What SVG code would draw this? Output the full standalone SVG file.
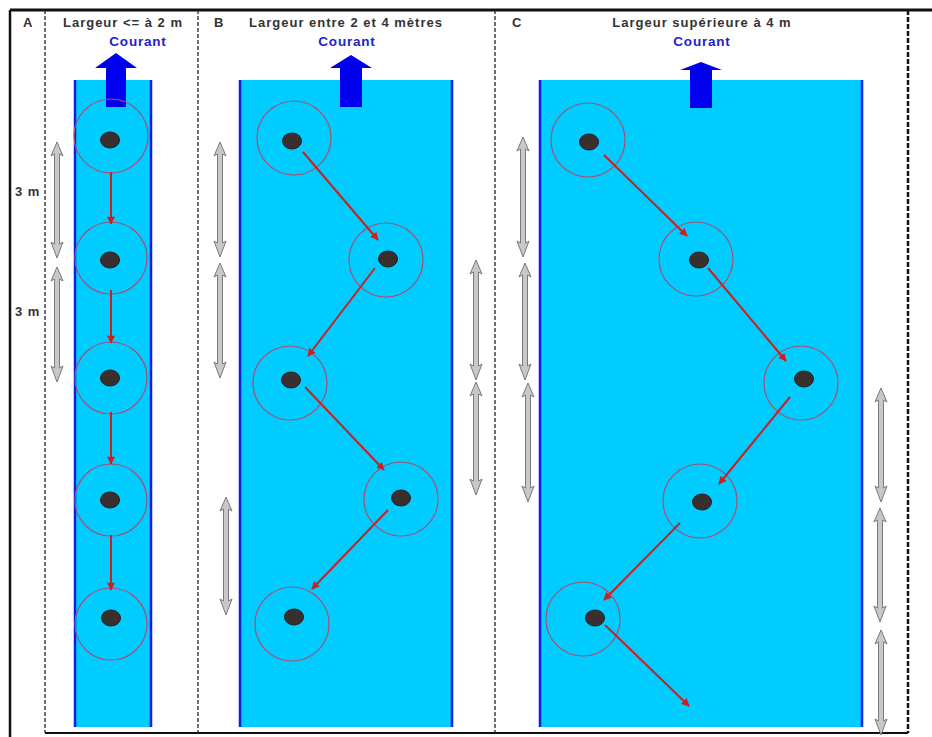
<svg xmlns="http://www.w3.org/2000/svg" width="932" height="737" viewBox="0 0 932 737">
  <style>
    .title { font-family: "Liberation Sans", Arial, sans-serif; font-weight: bold; font-size: 13px; letter-spacing: 1px; fill: #333; }
    .courant { font-family: "Liberation Sans", Arial, sans-serif; font-weight: bold; font-size: 13.5px; letter-spacing: 0.8px; fill: #2222cc; text-anchor: middle; }
    .river { fill: #00ccff; }
    .bank { stroke: #0a1ee6; stroke-width: 2.5; }
    .flow { fill: #0000ee; }
    .sep { stroke: #222; stroke-width: 1.3; stroke-dasharray: 4 2; fill: none; }
    .ring { fill: none; stroke: #a85070; stroke-width: 1.2; }
    .trunk { fill: #3a2f2f; stroke: #1f1f1f; stroke-width: 1; }
    .step { stroke: #cc2020; stroke-width: 2; fill: none; marker-end: url(#head); }
    .dim { fill: #c8c8c8; stroke: #7a7a7a; stroke-width: 1; }
  </style>
  <defs>
    <marker id="head" viewBox="0 0 10 10" refX="9" refY="5" markerWidth="4.5" markerHeight="4" orient="auto" markerUnits="strokeWidth">
      <path d="M0,0 L10,5 L0,10 Z" fill="#cc2020"/>
    </marker>
  </defs>

  <rect width="932" height="737" fill="#ffffff"/>

  <!-- frame -->
  <g id="frame">
    <line x1="10" y1="10" x2="932" y2="10" stroke="#111" stroke-width="3"/>
    <line x1="10" y1="10" x2="10" y2="737" stroke="#111" stroke-width="2.5"/>
    <line x1="45" y1="733" x2="908" y2="733" stroke="#111" stroke-width="2"/>
    <line class="sep" x1="45" y1="10" x2="45" y2="733"/>
    <line class="sep" x1="198" y1="10" x2="198" y2="733"/>
    <line class="sep" x1="495" y1="10" x2="495" y2="733"/>
    <line x1="908" y1="10" x2="908" y2="733" stroke="#111" stroke-width="2.5" stroke-dasharray="5 2"/>
  </g>

  <!-- titles -->
  <g id="titles">
    <text class="title" x="23" y="27">A</text>
    <text class="title" x="123" y="27" text-anchor="middle">Largeur &lt;= à 2 m</text>
    <text class="title" x="214" y="27">B</text>
    <text class="title" x="346" y="27" text-anchor="middle">Largeur entre 2 et 4 mètres</text>
    <text class="title" x="512" y="27">C</text>
    <text class="title" x="702" y="27" text-anchor="middle">Largeur supérieure à 4 m</text>
    <text class="courant" x="138" y="46">Courant</text>
    <text class="courant" x="347" y="46">Courant</text>
    <text class="courant" x="702" y="46">Courant</text>
  </g>

  <!-- river beds -->
  <g id="river-A">
    <rect class="river" x="75" y="80" width="76" height="647"/>
    <line class="bank" x1="75" y1="80" x2="75" y2="727"/>
    <line class="bank" x1="151" y1="80" x2="151" y2="727"/>
  </g>
  <g id="river-B">
    <rect class="river" x="240" y="80" width="212" height="647"/>
    <line class="bank" x1="240" y1="80" x2="240" y2="727"/>
    <line class="bank" x1="452" y1="80" x2="452" y2="727"/>
  </g>
  <g id="river-C">
    <rect class="river" x="540" y="80" width="322" height="647"/>
    <line class="bank" x1="540" y1="80" x2="540" y2="727"/>
    <line class="bank" x1="862" y1="80" x2="862" y2="727"/>
  </g>

  <!-- current direction arrows -->
  <g id="flow-A"><path class="flow" d="M116,53 L137,68 L126,68 L126,107 L106,107 L106,68 L95,68 Z"/></g>
  <g id="flow-B"><path class="flow" d="M351,55 L372,68 L362,68 L362,107 L340,107 L340,68 L330,68 Z"/></g>
  <g id="flow-C"><path class="flow" d="M701,62 L722,70 L712,70 L712,108 L690,108 L690,70 L680,70 Z"/></g>

  <!-- trees, layout A -->
  <g id="A1"><circle class="ring" cx="111" cy="136" r="37"/><ellipse class="trunk" cx="110" cy="140" rx="9.5" ry="8"/></g>
  <g id="A2"><circle class="ring" cx="111" cy="258" r="36"/><ellipse class="trunk" cx="110" cy="260" rx="9.5" ry="8"/></g>
  <g id="A3"><circle class="ring" cx="111" cy="378" r="36"/><ellipse class="trunk" cx="110" cy="378" rx="9.5" ry="8"/></g>
  <g id="A4"><circle class="ring" cx="111" cy="500" r="36"/><ellipse class="trunk" cx="110" cy="500" rx="9.5" ry="8"/></g>
  <g id="A5"><circle class="ring" cx="111" cy="624" r="36"/><ellipse class="trunk" cx="111" cy="618" rx="9.5" ry="8"/></g>

  <!-- trees, layout B -->
  <g id="B1"><circle class="ring" cx="294" cy="138" r="37"/><ellipse class="trunk" cx="292" cy="141" rx="9.5" ry="8"/></g>
  <g id="B2"><circle class="ring" cx="386" cy="260" r="37"/><ellipse class="trunk" cx="388" cy="259" rx="9.5" ry="8"/></g>
  <g id="B3"><circle class="ring" cx="290" cy="383" r="37"/><ellipse class="trunk" cx="291" cy="380" rx="9.5" ry="8"/></g>
  <g id="B4"><circle class="ring" cx="401" cy="499" r="37"/><ellipse class="trunk" cx="401" cy="498" rx="9.5" ry="8"/></g>
  <g id="B5"><circle class="ring" cx="292" cy="624" r="37"/><ellipse class="trunk" cx="294" cy="617" rx="9.5" ry="8"/></g>

  <!-- trees, layout C -->
  <g id="C1"><circle class="ring" cx="588" cy="140" r="37"/><ellipse class="trunk" cx="589" cy="142" rx="9.5" ry="8"/></g>
  <g id="C2"><circle class="ring" cx="696" cy="259" r="37"/><ellipse class="trunk" cx="699" cy="260" rx="9.5" ry="8"/></g>
  <g id="C3"><circle class="ring" cx="801" cy="383" r="37"/><ellipse class="trunk" cx="804" cy="379" rx="9.5" ry="8"/></g>
  <g id="C4"><circle class="ring" cx="700" cy="501" r="37"/><ellipse class="trunk" cx="702" cy="502" rx="9.5" ry="8"/></g>
  <g id="C5"><circle class="ring" cx="583" cy="619" r="37"/><ellipse class="trunk" cx="595" cy="618" rx="9.5" ry="8"/></g>

  <!-- planting order -->
  <g id="connectors">
    <line class="step" x1="111" y1="172" x2="111" y2="224"/>
    <line class="step" x1="111" y1="290" x2="111" y2="343"/>
    <line class="step" x1="111" y1="412" x2="111" y2="464"/>
    <line class="step" x1="111" y1="535" x2="111" y2="590"/>

    <line class="step" x1="303" y1="152" x2="378" y2="240"/>
    <line class="step" x1="375" y1="268" x2="308" y2="356"/>
    <line class="step" x1="305" y1="387" x2="384" y2="470"/>
    <line class="step" x1="388" y1="510" x2="312" y2="589"/>

    <line class="step" x1="604" y1="155" x2="687" y2="236"/>
    <line class="step" x1="708" y1="268" x2="786" y2="361"/>
    <line class="step" x1="790" y1="397" x2="719" y2="484"/>
    <line class="step" x1="680" y1="523" x2="604" y2="600"/>
    <line class="step" x1="605" y1="625" x2="689" y2="706"/>
  </g>

  <!-- spacing markers -->
  <g id="spacing">
    <path class="dim" d="M57,142 L63,156 L59.5,154 L59.5,244 L63,242 L57,258 L51,242 L54.5,244 L54.5,154 L51,156 Z"/>
    <path class="dim" d="M57,267 L63,281 L59.5,279 L59.5,368 L63,366 L57,382 L51,366 L54.5,368 L54.5,279 L51,281 Z"/>

    <path class="dim" d="M220,142 L226,156 L222.5,154 L222.5,243 L226,241 L220,257 L214,241 L217.5,243 L217.5,154 L214,156 Z"/>
    <path class="dim" d="M220,263 L226,277 L222.5,275 L222.5,364 L226,362 L220,378 L214,362 L217.5,364 L217.5,275 L214,277 Z"/>
    <path class="dim" d="M226,497 L232,511 L228.5,509 L228.5,601 L232,599 L226,615 L220,599 L223.5,601 L223.5,509 L220,511 Z"/>
    <path class="dim" d="M476,260 L482,274 L478.5,272 L478.5,366 L482,364 L476,380 L470,364 L473.5,366 L473.5,272 L470,274 Z"/>
    <path class="dim" d="M476,382 L482,396 L478.5,394 L478.5,481 L482,479 L476,495 L470,479 L473.5,481 L473.5,394 L470,396 Z"/>

    <path class="dim" d="M523,137 L529,151 L525.5,149 L525.5,243 L529,241 L523,257 L517,241 L520.5,243 L520.5,149 L517,151 Z"/>
    <path class="dim" d="M525,263 L531,277 L527.5,275 L527.5,366 L531,364 L525,380 L519,364 L522.5,366 L522.5,275 L519,277 Z"/>
    <path class="dim" d="M528,383 L534,397 L530.5,395 L530.5,488 L534,486 L528,502 L522,486 L525.5,488 L525.5,395 L522,397 Z"/>
    <path class="dim" d="M881,388 L887,402 L883.5,400 L883.5,488 L887,486 L881,502 L875,486 L878.5,488 L878.5,400 L875,402 Z"/>
    <path class="dim" d="M880,508 L886,522 L882.5,520 L882.5,608 L886,606 L880,622 L874,606 L877.5,608 L877.5,520 L874,522 Z"/>
    <path class="dim" d="M881,630 L887,644 L883.5,642 L883.5,721 L887,719 L881,735 L875,719 L878.5,721 L878.5,642 L875,644 Z"/>

    <text class="title" x="15" y="196" letter-spacing="0.5">3 m</text>
    <text class="title" x="15" y="316" letter-spacing="0.5">3 m</text>
  </g>
</svg>
